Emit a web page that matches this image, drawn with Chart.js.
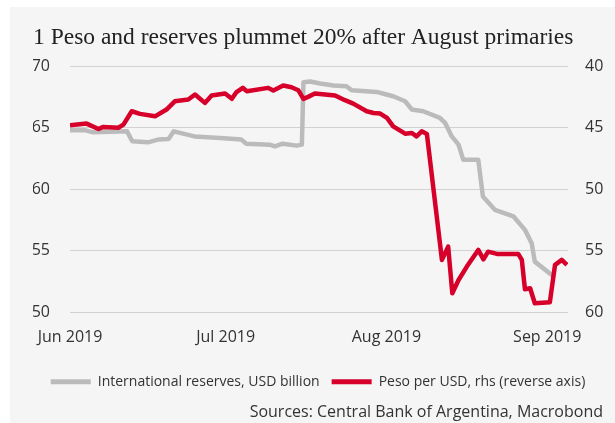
<!DOCTYPE html>
<html>
<head>
<meta charset="utf-8">
<script src="https://cdn.jsdelivr.net/npm/chart.js@4/dist/chart.umd.min.js"></script>
<style>
  html, body { margin: 0; padding: 0; background: #fff; }
  #panel { position: absolute; left: 10px; top: 7px; width: 605px; height: 416px; background: #f5f5f5; }
</style>
</head>
<body>
<div id="panel"><canvas id="chart" width="605" height="416" style="width:605px;height:416px"></canvas></div>
<script>
// x tick positions and their labels
const tickDates = ['2019-06-01', '2019-07-01', '2019-08-01', '2019-09-01'];
const tickLabels = ['Jun 2019', 'Jul 2019', 'Aug 2019', 'Sep 2019'];

// days counted from 1 Jun 2019
const reserveDays = [0, 3, 4.5, 11, 12, 15, 17, 19, 20, 24, 29, 33, 34, 38.5, 39.5, 41, 43.7, 44.7,
    45, 46.3, 48.2, 50.8, 53.3, 54.3, 59.1, 61, 62.3, 64.6, 65.9, 68.1, 71.3, 72.3, 73.6, 74.9, 75.8,
    78.7, 79.6, 81.9, 85.5, 87.7, 89, 89.6, 93];
const reserves = [64.79, 64.79, 64.63, 64.71, 63.9, 63.82, 64.04, 64.09, 64.71, 64.3, 64.17, 64.04,
    63.71, 63.63, 63.49, 63.71, 63.55, 63.63, 68.7, 68.76, 68.6, 68.43, 68.37, 68.05, 67.91, 67.7,
    67.56, 67.15, 66.48, 66.34, 65.8, 65.4, 64.3, 63.63, 62.41, 62.41, 59.42, 58.34, 57.8, 56.71,
    55.63, 54.13, 53.0];

const pesoDays = [0, 3.2, 5.5, 6.4, 9.3, 10.3, 11.9, 13.5, 16.4, 18.6, 20.2, 22.8, 24.1, 26.0, 27.3,
    29.9, 31.2, 32.1, 33.3, 34.1, 38.2, 39.2, 41.1, 42.7, 44.0, 45.0, 45.9, 47.2, 51.1, 53.0, 54.6,
    57.2, 58.5, 59.8, 61.1, 62.3, 64.6, 65.9, 66.8, 67.8, 68.8, 71.7, 72.9, 73.7, 74.9, 76.5, 78.7,
    79.7, 80.6, 82.3, 86.4, 87.1, 87.7, 88.7, 89.6, 92.5, 93.5, 94.8, 95.8];
const pesoPerUsd = [44.8, 44.66, 45.1, 44.93, 45.0, 44.74, 43.66, 43.87, 44.07, 43.52, 42.85, 42.71,
    42.3, 42.98, 42.38, 42.22, 42.65, 42.1, 41.76, 42.03, 41.76, 41.98, 41.57, 41.71, 41.95, 42.65,
    42.49, 42.22, 42.38, 42.76, 43.04, 43.66, 43.8, 43.85, 44.2, 44.88, 45.48, 45.42, 45.7, 45.29,
    45.5, 55.73, 54.65, 58.44, 57.36, 56.27, 54.92, 55.68, 55.06, 55.24, 55.24, 55.73, 58.11, 58.03,
    59.25, 59.17, 56.13, 55.73, 56.13];

const grey = '#bbbbbb';
const red = '#d6002a';
const textColor = '#333333';
const sans = "'Open Sans', sans-serif";

const start = Date.UTC(2019, 5, 1);
function dayOf(s) {
    return (Date.parse(s) - start) / 86400000;
}
const tickDays = tickDates.map(dayOf);

function points(xs, ys) {
    return xs.map((x, i) => ({ x: x, y: ys[i] }));
}

new Chart(document.getElementById('chart'), {
    type: 'line',
    data: {
        datasets: [
            {
                label: 'International reserves, USD billion',
                data: points(reserveDays, reserves),
                borderColor: grey,
                backgroundColor: grey,
                borderWidth: 4.5,
                yAxisID: 'y',
                order: 1
            },
            {
                label: 'Peso per USD, rhs (reverse axis)',
                data: points(pesoDays, pesoPerUsd),
                borderColor: red,
                backgroundColor: red,
                borderWidth: 4.5,
                yAxisID: 'y1',
                order: 0
            }
        ]
    },
    options: {
        responsive: false,
        animation: false,
        layout: { padding: { left: 23, right: 12, top: 0, bottom: 0 } },
        elements: {
            point: { radius: 0 },
            line: { tension: 0, borderJoinStyle: 'round', borderCapStyle: 'butt' }
        },
        scales: {
            x: {
                type: 'linear',
                min: 0,
                max: 96,
                grid: { display: false, drawTicks: false },
                border: { display: false },
                afterBuildTicks: scale => { scale.ticks = tickDays.map(v => ({ value: v })); },
                afterFit: scale => { scale.height = 50.3; },
                ticks: {
                    autoSkip: false,
                    maxRotation: 0,
                    padding: 15,
                    color: textColor,
                    font: { family: sans, size: 16 },
                    callback: (value, index) => tickLabels[index]
                }
            },
            y: {
                position: 'left',
                min: 50,
                max: 70,
                grid: { color: '#d2d2d2', lineWidth: 1, drawTicks: false },
                border: { display: false },
                afterFit: scale => { scale.width = 37; },
                ticks: { stepSize: 5, padding: 20, color: textColor, font: { family: sans, size: 16 } }
            },
            y1: {
                position: 'right',
                reverse: true,
                min: 40,
                max: 60,
                grid: { display: false, drawTicks: false },
                border: { display: false },
                afterFit: scale => { scale.width = 35; },
                ticks: { stepSize: 5, padding: 17, color: textColor, font: { family: sans, size: 16 } }
            }
        },
        plugins: {
            title: {
                display: true,
                text: '1 Peso and reserves plummet 20% after August primaries',
                align: 'start',
                color: '#222222',
                font: { family: "'Liberation Serif', serif", size: 23.5, weight: 'normal' },
                padding: { top: 17, bottom: 14 }
            },
            subtitle: {
                display: true,
                position: 'bottom',
                align: 'end',
                text: 'Sources: Central Bank of Argentina, Macrobond',
                color: textColor,
                font: { family: sans, size: 16 },
                padding: { top: 4, bottom: 1 }
            },
            legend: {
                position: 'bottom',
                labels: {
                    boxWidth: 40,
                    boxHeight: 5,
                    padding: 12,
                    color: textColor,
                    font: { family: sans, size: 14 },
                    sort: (a, b) => a.datasetIndex - b.datasetIndex,
                    generateLabels: chart => Chart.defaults.plugins.legend.labels.generateLabels(chart)
                        .map(item => Object.assign(item, { lineWidth: 0, fillStyle: item.strokeStyle }))
                }
            },
            tooltip: { enabled: false }
        }
    }
});
</script>
</body>
</html>
